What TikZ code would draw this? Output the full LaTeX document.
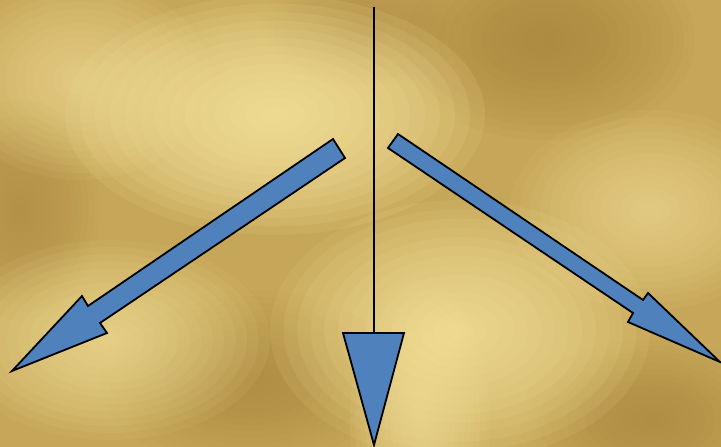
\documentclass[tikz,border=0pt]{standalone}
\definecolor{goldbase}{HTML}{C6A658}
\definecolor{goldlight}{HTML}{FCEBA4}
\definecolor{golddark}{HTML}{A4823A}
\definecolor{arrowblue}{HTML}{4F81BD}
\tikzset{
  blockarrow/.style={fill=arrowblue, draw=black, line width=1.8pt, line join=miter}
}
% soft spot: colour, x, y, rx, ry, per-step opacity
\newcommand\bgspot[6]{%
  \foreach \k in {1,...,14}{%
    \fill[#1, opacity=#6] (#2,#3) ellipse ({#4*\k/14} and {#5*\k/14});
  }%
}
\begin{document}
\begin{tikzpicture}[x=1pt,y=-1pt]
\useasboundingbox (0,0) rectangle (721,447);
% background
\fill[goldbase] (0,0) rectangle (721,447);
\begin{scope}
\clip (0,0) rectangle (721,447);
\bgspot{golddark}{545}{40}{150}{100}{0.07}
\bgspot{golddark}{250}{380}{150}{90}{0.05}
\bgspot{golddark}{650}{420}{130}{80}{0.05}
\bgspot{golddark}{20}{210}{80}{110}{0.04}
\bgspot{golddark}{360}{30}{100}{60}{0.04}
\bgspot{goldlight}{275}{115}{210}{120}{0.11}
\bgspot{goldlight}{80}{80}{130}{100}{0.06}
\bgspot{goldlight}{460}{330}{190}{130}{0.09}
\bgspot{goldlight}{110}{340}{160}{100}{0.07}
\bgspot{goldlight}{650}{210}{140}{100}{0.06}
\bgspot{goldlight}{420}{420}{70}{140}{0.06}
\end{scope}
% vertical line with triangle head
\coordinate (top) at (373.5,7);
\coordinate (base) at (373.5,333);
\draw[line width=2pt] (top) -- (base);
\draw[blockarrow] (343,333) -- (404,333) -- (374,445) -- cycle;
% left block arrow
\draw[blockarrow] (333,139) -- (345,158) -- (100,323) -- (107,333) -- (12,371) -- (82,296) -- (88,306) -- cycle;
% right block arrow
\draw[blockarrow] (398,134) -- (643,300) -- (648,293) -- (720,362) -- (628,322) -- (633,313) -- (388,148) -- cycle;
\end{tikzpicture}
\end{document}
